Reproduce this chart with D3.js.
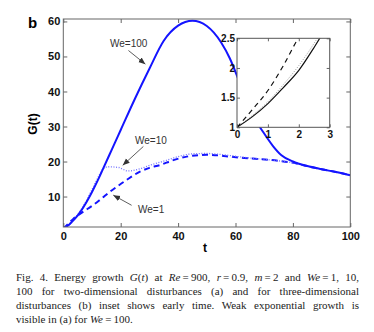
<!DOCTYPE html>
<html>
<head>
<meta charset="utf-8">
<script src="https://cdn.jsdelivr.net/npm/d3@7"></script>
<style>
body { margin: 0; background: #fff; }
</style>
</head>
<body>
<script>
// energy growth G(t), one pair of arrays per Weber number
var tWe100 = [0, 0.5, 1, 1.5, 2, 2.5, 3, 4, 6, 8, 10, 12, 14, 16, 18, 20, 25, 30, 35, 40, 45, 50, 55, 58, 61, 64, 67, 70, 73, 76, 80, 85, 90, 95, 100];
var gWe100 = [1, 1.18, 1.4, 1.67, 1.96, 2.35, 2.78, 3.6, 5.7, 8.3, 11.3, 14.6, 18.2, 21.8, 25.4, 29.0, 38.0, 46.5, 54.5, 58.8, 60.2, 58.7, 54.0, 49.5, 43.5, 37.0, 31.8, 28.0, 24.5, 21.8, 20.0, 18.7, 17.8, 17.0, 16.1];

var tWe10 = [0, 0.5, 1, 1.5, 2, 2.5, 3, 4, 6, 8, 10, 12, 14, 15.7, 19.2, 22.6, 26.7, 30, 35, 40, 45, 50, 55, 60, 65, 70, 75, 81, 85, 90, 95, 100];
var gWe10 = [1, 1.2, 1.43, 1.72, 2.04, 2.42, 2.85, 3.8, 6.0, 8.8, 12.0, 15.3, 18.0, 18.5, 18.3, 17.3, 17.9, 18.9, 20.1, 21.4, 22.2, 22.3, 22.0, 21.5, 21.0, 20.6, 20.2, 19.5, 18.7, 17.8, 17.0, 16.1];

var tWe1 = [0, 0.5, 1, 1.5, 2, 2.5, 3, 4, 7, 10.5, 13, 16.3, 19, 22, 26.7, 30, 33.7, 38, 43, 50, 55, 58, 63, 68.5, 75, 81, 85, 90, 95, 100];
var gWe1 = [1, 1.3, 1.62, 2.04, 2.52, 2.9, 3.25, 4.0, 5.7, 7.6, 9.2, 11.4, 13.0, 14.7, 17.1, 18.2, 19.0, 20.3, 21.4, 21.9, 21.7, 21.4, 21.0, 20.7, 20.2, 19.5, 18.7, 17.8, 17.0, 16.1];

var xTicks = [0, 20, 40, 60, 80, 100];
var yTicks = [10, 20, 30, 40, 50, 60];
var insetXTicks = [0, 1, 2, 3];
var insetYTicks = [1, 1.5, 2, 2.5];

var labels = ["We=100", "We=10", "We=1"];

var width = 374, height = 332;
var blue = "#1414ff";

var svg = d3.select("body").append("svg")
    .attr("width", width)
    .attr("height", height)
    .style("font-family", "'Liberation Sans', Arial, sans-serif");

// main plot
var x = d3.scaleLinear().domain([0, 100]).range([63.3, 350.3]);
var y = d3.scaleLinear().domain([1.3, 60.7]).range([227, 19]);

var plot = svg.append("g");

plot.append("clipPath").attr("id", "mainClip")
    .append("rect")
    .attr("x", x(0)).attr("y", y(60.7))
    .attr("width", x(100) - x(0)).attr("height", y(1.3) - y(60.7));

var line = d3.line()
    .x(function (d) { return x(d[0]); })
    .y(function (d) { return y(d[1]); })
    .curve(d3.curveMonotoneX);

var curves = [
    { t: tWe1, g: gWe1, color: blue, w: 2, dash: "6,4" },
    { t: tWe10, g: gWe10, color: "#7070ff", w: 1.3, dash: "1,1.6" },
    { t: tWe100, g: gWe100, color: blue, w: 2, dash: null }
];

curves.forEach(function (c) {
    plot.append("path")
        .datum(d3.zip(c.t, c.g))
        .attr("clip-path", "url(#mainClip)")
        .attr("fill", "none")
        .attr("stroke", c.color)
        .attr("stroke-width", c.w)
        .attr("stroke-dasharray", c.dash)
        .attr("d", line);
});

function styleAxis(g, size) {
    g.select(".domain").remove();
    g.selectAll(".tick line").attr("stroke", "#666");
    g.selectAll(".tick text")
        .attr("fill", "#111")
        .style("font-size", size + "px")
        .style("font-weight", "bold")
        .style("font-family", "'Liberation Sans', Arial, sans-serif");
}

svg.append("g")
    .attr("transform", "translate(0," + y(1.3) + ")")
    .call(d3.axisBottom(x).tickValues(xTicks).tickSize(-4).tickPadding(5))
    .call(styleAxis, 11);
svg.append("g")
    .attr("transform", "translate(0," + y(60.7) + ")")
    .call(d3.axisTop(x).tickValues(xTicks).tickSize(-4).tickFormat(""))
    .call(styleAxis, 11);
svg.append("g")
    .attr("transform", "translate(" + x(0) + ",0)")
    .call(d3.axisLeft(y).tickValues(yTicks).tickSize(-4).tickPadding(3))
    .call(styleAxis, 11);
svg.append("g")
    .attr("transform", "translate(" + x(100) + ",0)")
    .call(d3.axisRight(y).tickValues(yTicks).tickSize(-4).tickFormat(""))
    .call(styleAxis, 11);

svg.append("rect")
    .attr("x", x(0)).attr("y", y(60.7))
    .attr("width", x(100) - x(0)).attr("height", y(1.3) - y(60.7))
    .attr("fill", "none")
    .attr("stroke", "#666")
    .attr("stroke-width", 1);

// axis titles and panel letter
svg.append("text")
    .attr("x", 205).attr("y", 252)
    .attr("text-anchor", "middle")
    .style("font-size", "12px").style("font-weight", "bold")
    .text("t");
svg.append("text")
    .attr("transform", "translate(37,124) rotate(-90)")
    .attr("text-anchor", "middle")
    .style("font-size", "12px").style("font-weight", "bold")
    .text("G(t)");
svg.append("text")
    .attr("x", 28).attr("y", 28)
    .style("font-size", "15px").style("font-weight", "bold")
    .text("b");

// annotations
svg.append("defs").append("marker")
    .attr("id", "arrow")
    .attr("viewBox", "0 0 10 10")
    .attr("refX", 10).attr("refY", 5)
    .attr("markerWidth", 7).attr("markerHeight", 7)
    .attr("markerUnits", "userSpaceOnUse")
    .attr("orient", "auto")
    .append("path")
    .attr("d", "M0,1L10,5L0,9Z")
    .attr("fill", "#333");

var notes = [
    { text: labels[0], tx: 110, ty: 47, from: [x(22.7), y(51.7)], to: [x(28.6), y(47.8)] },
    { text: labels[1], tx: 135, ty: 144, from: [x(27.9), y(24.3)], to: [x(20.7), y(18.9)] },
    { text: labels[2], tx: 138, ty: 213, from: [x(23.8), y(7.5)], to: [x(17.4), y(10.4)] }
];

notes.forEach(function (n) {
    svg.append("text")
        .attr("x", n.tx).attr("y", n.ty)
        .attr("fill", "#333")
        .style("font-size", "10px")
        .text(n.text);
    svg.append("line")
        .attr("x1", n.from[0]).attr("y1", n.from[1])
        .attr("x2", n.to[0]).attr("y2", n.to[1])
        .attr("stroke", "#333")
        .attr("stroke-width", 0.8)
        .attr("marker-end", "url(#arrow)");
});

// inset: early time
var ix = d3.scaleLinear().domain([0, 3]).range([237, 329.7]);
var iy = d3.scaleLinear().domain([1, 2.5]).range([127.3, 38.3]);

svg.append("rect")
    .attr("x", ix(0)).attr("y", iy(2.5))
    .attr("width", ix(3) - ix(0)).attr("height", iy(1) - iy(2.5))
    .attr("fill", "#fff");

svg.append("clipPath").attr("id", "insetClip")
    .append("rect")
    .attr("x", ix(0)).attr("y", iy(2.5))
    .attr("width", ix(3) - ix(0)).attr("height", iy(1) - iy(2.5));

var insetLine = d3.line()
    .x(function (d) { return ix(d[0]); })
    .y(function (d) { return iy(d[1]); })
    .curve(d3.curveMonotoneX);

var insetCurves = [
    { t: tWe1, g: gWe1, color: "#111", w: 1.2, dash: "5,4" },
    { t: tWe10, g: gWe10, color: "#999", w: 1, dash: "1,1.5" },
    { t: tWe100, g: gWe100, color: "#111", w: 1.2, dash: null }
];

insetCurves.forEach(function (c) {
    svg.append("path")
        .datum(d3.zip(c.t, c.g).filter(function (d) { return d[0] <= 4; }))
        .attr("clip-path", "url(#insetClip)")
        .attr("fill", "none")
        .attr("stroke", c.color)
        .attr("stroke-width", c.w)
        .attr("stroke-dasharray", c.dash)
        .attr("d", insetLine);
});

svg.append("g")
    .attr("transform", "translate(0," + iy(1) + ")")
    .call(d3.axisBottom(ix).tickValues(insetXTicks).tickSize(-3).tickPadding(4).tickFormat(d3.format("d")))
    .call(styleAxis, 10);
svg.append("g")
    .attr("transform", "translate(0," + iy(2.5) + ")")
    .call(d3.axisTop(ix).tickValues(insetXTicks).tickSize(-3).tickFormat(""))
    .call(styleAxis, 10);
svg.append("g")
    .attr("transform", "translate(" + ix(0) + ",0)")
    .call(d3.axisLeft(iy).tickValues(insetYTicks).tickSize(-3).tickPadding(2).tickFormat(d3.format("")))
    .call(styleAxis, 10);
svg.append("g")
    .attr("transform", "translate(" + ix(3) + ",0)")
    .call(d3.axisRight(iy).tickValues(insetYTicks).tickSize(-3).tickFormat(""))
    .call(styleAxis, 10);

svg.append("rect")
    .attr("x", ix(0)).attr("y", iy(2.5))
    .attr("width", ix(3) - ix(0)).attr("height", iy(1) - iy(2.5))
    .attr("fill", "none")
    .attr("stroke", "#555")
    .attr("stroke-width", 1);

// caption, justified between x=16 and x=359
var captionLines = [
    [["Fig. 4. Energy growth ", 0], ["G", 1], ["(", 0], ["t", 1], [") at ", 0], ["Re", 1], ["\u2009=\u2009900, ", 0], ["r", 1], ["\u2009=\u20090.9, ", 0], ["m", 1], ["\u2009=\u20092 and ", 0], ["We", 1], ["\u2009=\u20091, 10,", 0]],
    [["100 for two-dimensional disturbances (a) and for three-dimensional", 0]],
    [["disturbances (b) inset shows early time. Weak exponential growth is", 0]],
    [["visible in (a) for ", 0], ["We", 1], ["\u2009=\u2009100.", 0]]
];

var capLeft = 16, capRight = 359;

captionLines.forEach(function (parts, i) {
    var t = svg.append("text")
        .attr("x", capLeft)
        .attr("y", 281 + i * 14)
        .attr("fill", "#222")
        .style("font-family", "'Liberation Serif', 'Times New Roman', serif")
        .style("font-size", "11px")
        .style("white-space", "pre");
    parts.forEach(function (p) {
        t.append("tspan")
            .style("font-style", p[1] ? "italic" : "normal")
            .text(p[0]);
    });
    if (i < captionLines.length - 1) {
        var full = parts.map(function (p) { return p[0]; }).join("");
        var spaces = full.split(" ").length - 1;
        var len = t.node().getComputedTextLength();
        t.style("word-spacing", ((capRight - capLeft - len) / spaces) + "px");
    }
});
</script>
</body>
</html>
